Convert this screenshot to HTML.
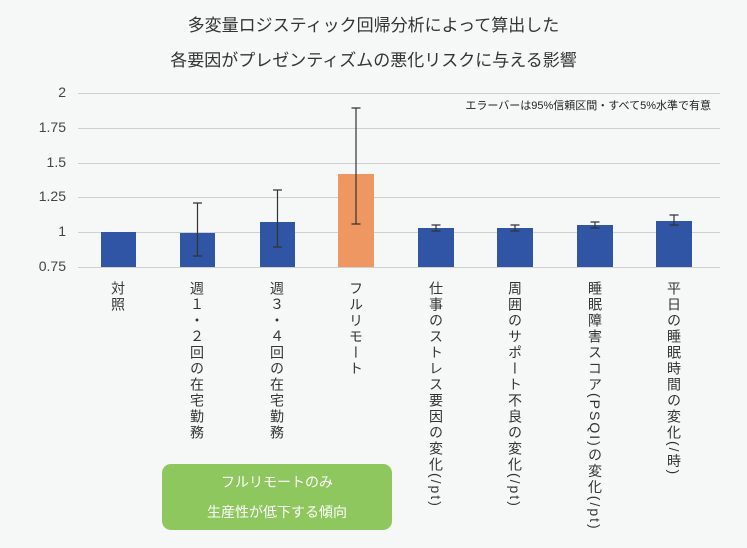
<!DOCTYPE html>
<html><head><meta charset="utf-8"><style>
body{margin:0;background:#f6f7f7;}
#c{position:relative;width:747px;height:548px;background:#f6f7f7;font-family:"Liberation Sans","Noto Sans CJK JP",sans-serif;color:#333;overflow:hidden}
.t{position:absolute;left:0;width:747px;text-align:center;font-size:17px;color:#333}
.v{position:absolute;top:281px;writing-mode:vertical-rl;font-size:14px;line-height:15px;color:#333;letter-spacing:2px}
.y{position:absolute;width:30px;left:36px;text-align:right;font-size:14px;color:#444}
</style></head><body><div id="c">
<div class="t" style="top:11px">多変量ロジスティック回帰分析によって算出した</div>
<div class="t" style="top:46px">各要因がプレゼンティズムの悪化リスクに与える影響</div>
<div class="y" style="top:84px">2</div>
<div class="y" style="top:119px">1.75</div>
<div class="y" style="top:154px">1.5</div>
<div class="y" style="top:188px">1.25</div>
<div class="y" style="top:223px">1</div>
<div class="y" style="top:258px">0.75</div>
<div style="position:absolute;right:36px;top:97px;font-size:11px;color:#222">エラーバーは95%信頼区間・すべて5%水準で有意</div>
<svg width="747" height="548" style="position:absolute;left:0;top:0">
<g stroke="#d0d0d0" stroke-width="1">
<line x1="78" x2="720" y1="93.5" y2="93.5"/><line x1="78" x2="720" y1="128.5" y2="128.5"/>
<line x1="78" x2="720" y1="163.5" y2="163.5"/><line x1="78" x2="720" y1="197.5" y2="197.5"/>
<line x1="78" x2="720" y1="232.5" y2="232.5"/><line x1="78" x2="720" y1="267.5" y2="267.5"/>
</g>
<g fill="#2f55a4">
<rect x="101" y="232" width="35" height="35"/>
<rect x="180" y="233" width="35" height="34"/>
<rect x="260" y="222" width="35" height="45"/>
<rect x="418" y="228" width="36" height="39"/>
<rect x="497" y="228" width="36" height="39"/>
<rect x="577" y="225" width="36" height="42"/>
<rect x="656" y="221" width="36" height="46"/>
</g>
<rect x="338" y="174" width="36" height="93" fill="#ee9762"/>
<g stroke="#333" stroke-width="1.2" fill="none">
<path d="M197.5 203V256M193 203H202M193 256H202"/>
<path d="M277.5 190V247M273 190H282M273 247H282"/>
<path d="M356 108V224M351.5 108H360.5M351.5 224H360.5"/>
<path d="M436 225V231M431.5 225H440.5M431.5 231H440.5"/>
<path d="M515 225V231M510.5 225H519.5M510.5 231H519.5"/>
<path d="M595 222V228M590.5 222H599.5M590.5 228H599.5"/>
<path d="M674 215V225M669.5 215H678.5M669.5 225H678.5"/>
</g>
</svg>
<div class="v" style="left:110px">対照</div>
<div class="v" style="left:189px">週１・２回の在宅勤務</div>
<div class="v" style="left:269px">週３・４回の在宅勤務</div>
<div class="v" style="left:348px">フルリモート</div>
<div class="v" style="left:428px">仕事のストレス要因の変化(/pt)</div>
<div class="v" style="left:507px">周囲のサポート不良の変化(/pt)</div>
<div class="v" style="left:587px">睡眠障害スコア(PSQI)の変化(/pt)</div>
<div class="v" style="left:666px">平日の睡眠時間の変化(/時)</div>
<div style="position:absolute;left:162px;top:464px;width:230px;height:66px;background:#8dc75e;border-radius:9px;color:#fff;font-size:14px;text-align:center;line-height:30px;padding-top:3px;box-sizing:border-box">フルリモートのみ<br>生産性が低下する傾向</div>
</div></body></html>
